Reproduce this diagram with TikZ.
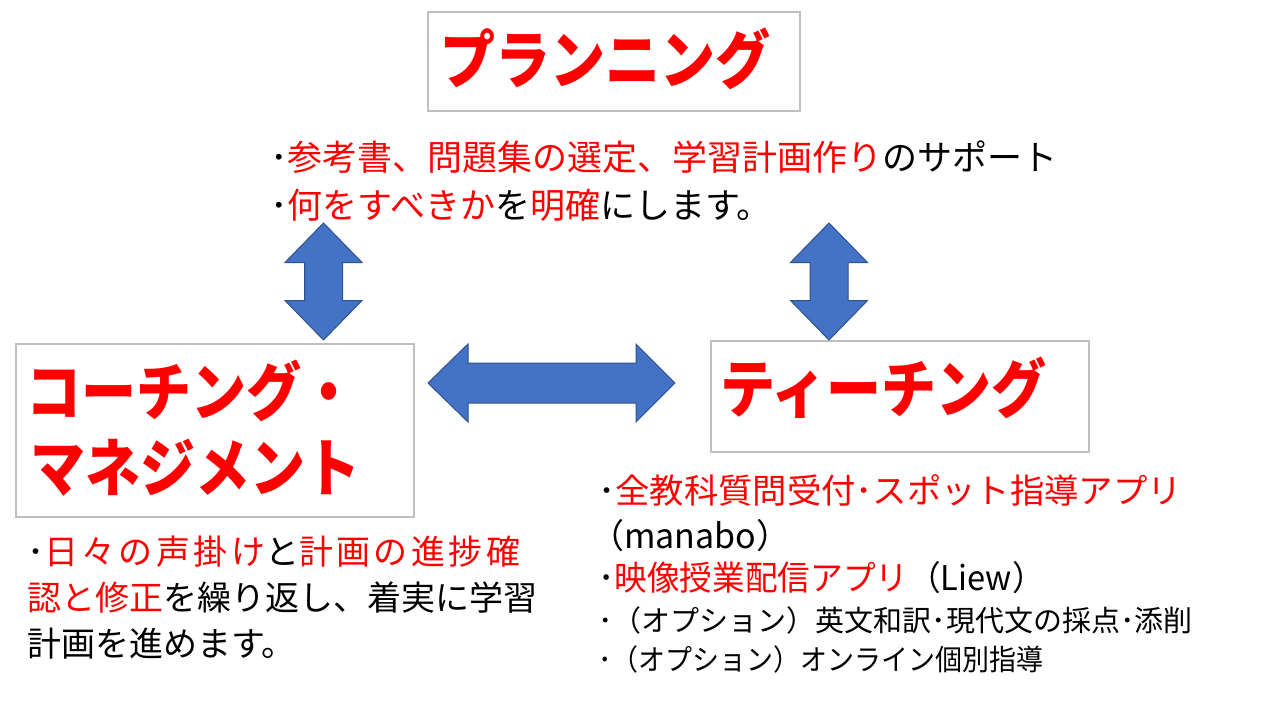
\documentclass[tikz,border=0pt]{standalone}
\usepackage{fontspec}
\setmainfont{Noto Sans CJK JP}
\definecolor{boxgray}{HTML}{BFBFBF}
\definecolor{arrowblue}{HTML}{4472C4}
\definecolor{arrowedge}{HTML}{2F528F}
\definecolor{textred}{HTML}{FF0000}
\newcommand\redtext[1]{\textcolor{textred}{#1}}
\newcommand\tallbox[1]{\scalebox{1}[1.15]{#1}}
\tikzset{
  box/.style={draw=boxgray, line width=2pt, fill=white, inner sep=0pt},
  title/.style={text=textred, inner sep=0pt, font=\fontsize{55}{60}\selectfont\bfseries},
  txt/.style={inner sep=0pt, text=black, font=\fontsize{35}{40}\selectfont},
  txtsmall/.style={inner sep=0pt, text=black, font=\fontsize{29}{34}\selectfont},
  blockarrow/.style={fill=arrowblue, draw=arrowedge, line width=1pt, line join=miter},
  vdbl/.pic={\filldraw[blockarrow] (0,-58.5) -- (38.5,-19) -- (19,-19) -- (19,19) -- (38.5,19) -- (0,58.5) -- (-38.5,19) -- (-19,19) -- (-19,-19) -- (-38.5,-19) -- cycle;}
}
\begin{document}
\begin{tikzpicture}[x=1pt,y=-1pt]
\useasboundingbox (0,0) rectangle (1280,720);
\fill[white] (0,0) rectangle (1280,720);

% boxes
\node[box, minimum width=372pt, minimum height=99pt] (planbox) at (614,61.5) {};
\node[box, minimum width=398pt, minimum height=173pt] (coachbox) at (215,430.5) {};
\node[box, minimum width=378pt, minimum height=111pt] (teachbox) at (900,396.5) {};

% titles
\node[title, anchor=west] (plantitle) at (440,59) {\tallbox{プランニング}};
\node[title, anchor=west] (coach1) at (26,391) {\tallbox{コーチング・}};
\node[title, anchor=west] (coach2) at (30,468) {\tallbox{マネジメント}};
\node[title, anchor=west] (teachtitle) at (720,388) {\tallbox{ティーチング}};

% block arrows
\pic at (323.5,281.5) {vdbl};
\pic at (829,281.5) {vdbl};
\filldraw[blockarrow] (428,383) -- (468,344) -- (468,363) -- (636,363) -- (636,344) -- (675,383) -- (636,422) -- (636,403) -- (468,403) -- (468,422) -- cycle;

% planning text
\node[txt, anchor=west] (p1) at (270,157) {･\redtext{参考書、問題集の選定、学習計画作り}のサポート};
\node[txt, anchor=west] (p2) at (270,205) {･\redtext{何をすべきか}を\redtext{明確}にします。};

% coaching text
\node[txt, anchor=west, font=\fontsize{34}{40}\selectfont\addfontfeature{LetterSpace=10}] (c1) at (27,552) {･\redtext{日々の声掛け}と\redtext{計画の進捗確}};
\node[txt, anchor=west, font=\fontsize{34}{40}\selectfont] (c2) at (27,598) {\redtext{認と修正}を繰り返し、着実に学習};
\node[txt, anchor=west, font=\fontsize{34}{40}\selectfont] (c3) at (27,644) {計画を進めます。};

% teaching text
\node[txt, anchor=west, font=\fontsize{34}{40}\selectfont] (t1) at (598,490) {\scalebox{1.01}[1]{･\redtext{全教科質問受付･スポット指導アプリ}}};
\node[txt, anchor=west, font=\fontsize{34}{40}\selectfont] (t2) at (590,536) {（manabo）};
\node[txt, anchor=west, font=\fontsize{34}{40}\selectfont] (t3) at (598,578) {\scalebox{0.96}[1]{･\redtext{映像授業配信アプリ}（Liew）}};
\node[txtsmall, anchor=west] (t4) at (598,620) {･（オプション）英文和訳･現代文の採点･添削};
\node[txtsmall, anchor=west] (t5) at (598,659) {\scalebox{0.93}[1]{･（オプション）オンライン個別指導}};
\end{tikzpicture}
\end{document}
